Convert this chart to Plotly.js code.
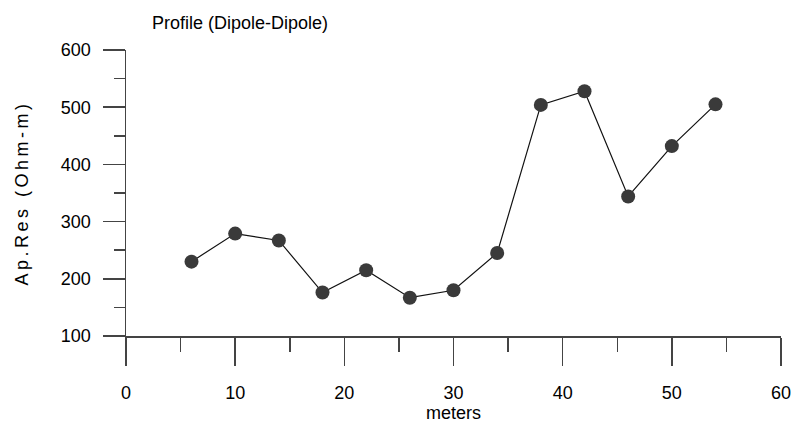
<!DOCTYPE html>
<html>
<head>
<meta charset="utf-8">
<script src="https://cdn.plot.ly/plotly-3.0.1.min.js"></script>
<style>
html,body{margin:0;padding:0;background:#fff;}
#chart{width:793px;height:428px;}
.ytitle{letter-spacing:3.5px;}
</style>
</head>
<body>
<div id="chart"></div>
<script>
const distance = [6, 10, 14, 18, 22, 26, 30, 34, 38, 42, 46, 50, 54];
const apRes = [230, 279, 267, 176, 215, 167, 180, 245, 504, 528, 344, 432, 505];
const xTicks = [0, 10, 20, 30, 40, 50, 60];
const yTicks = [100, 200, 300, 400, 500, 600];

const sans = '"Liberation Sans", Arial, sans-serif';

const trace = {
  x: distance,
  y: apRes,
  type: 'scatter',
  mode: 'lines+markers',
  line: {color: '#111', width: 1.2},
  marker: {color: '#3a3a3a', size: 14},
  cliponaxis: false,
  hoverinfo: 'none'
};

const layout = {
  width: 793, height: 428,
  margin: {l: 126, r: 12, t: 50, b: 92},
  paper_bgcolor: '#fff', plot_bgcolor: '#fff',
  showlegend: false,
  title: {
    text: 'Profile (Dipole-Dipole)',
    x: 152/793, xanchor: 'left', xref: 'container',
    y: 1 - 23/428, yanchor: 'middle', yref: 'container',
    font: {family: sans, size: 18, color: '#000'}
  },
  xaxis: {
    range: [0, 60], tickvals: xTicks, ticktext: xTicks.map(String),
    showgrid: false, zeroline: false, showline: true, linecolor: '#444', linewidth: 1.5,
    ticks: 'outside', ticklen: 28, tickwidth: 1.5, tickcolor: '#444',
    minor: {dtick: 5, tick0: 0, ticks: 'outside', ticklen: 14, tickwidth: 1.5, tickcolor: '#444', showgrid: false},
    tickfont: {family: sans, size: 18, color: '#000'},
    ticklabelstandoff: 12,
    title: {text: 'meters', font: {family: sans, size: 18, color: '#000'}, standoff: 3}
  },
  yaxis: {
    range: [100, 600], tickvals: yTicks, ticktext: yTicks.map(String),
    showgrid: false, zeroline: false, showline: true, linecolor: '#444', linewidth: 1.5,
    ticks: 'outside', ticklen: 22, tickwidth: 1.5, tickcolor: '#444',
    minor: {dtick: 50, tick0: 100, ticks: 'outside', ticklen: 11, tickwidth: 1.5, tickcolor: '#444', showgrid: false},
    tickfont: {family: sans, size: 18, color: '#000'},
    ticklabelstandoff: 8,
    title: {text: 'Ap.Res (Ohm-m)', font: {family: sans, size: 18, color: '#000'}, standoff: 27}
  }
};

Plotly.newPlot('chart', [trace], layout, {displayModeBar: false, staticPlot: true});
</script>
</body>
</html>
